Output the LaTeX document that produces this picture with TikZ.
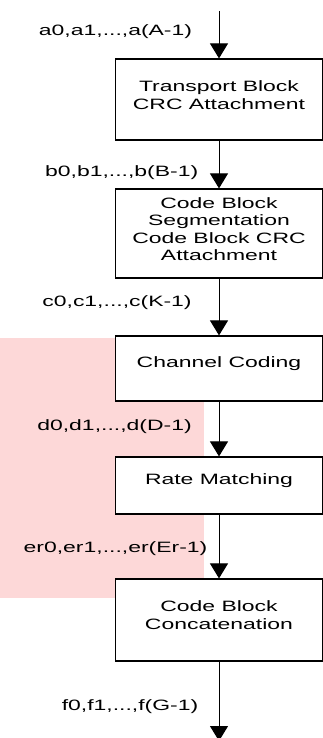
\documentclass[tikz,border=0pt]{standalone}
\usepackage{fontspec}
\setmainfont{Liberation Sans}[FakeStretch=1.53]
\usetikzlibrary{arrows.meta}
\definecolor{wmpink}{RGB}{253,216,216}
\begin{document}
\begin{tikzpicture}[x=1pt,y=-1pt,
  blk/.style={draw=black, line width=1.2pt, fill=white, minimum width=207pt, inner sep=0pt},
  txt/.style={align=center, inner sep=0pt, font=\fontsize{15}{17.3}\selectfont},
  lbl/.style={inner sep=0pt, anchor=base, font=\fontsize{15}{17.3}\selectfont},
  flow/.style={line width=1pt, -{Triangle[width=18pt,length=15pt]}}]
\useasboundingbox (0,0) rectangle (323,738);
% faint pink watermark
\fill[wmpink] (0,338) rectangle (204,598);
% boxes
\node[blk, minimum height=81pt] (b1) at (219,99.5) {};
\node[blk, minimum height=89pt] (b2) at (219,233.5) {};
\node[blk, minimum height=65pt] (b3) at (219,368.5) {};
\node[blk, minimum height=57pt] (b4) at (219,485.5) {};
\node[blk, minimum height=82pt] (b5) at (219,620) {};
% box texts
\node[txt] (t1) at ([yshift=4.5pt]b1.center) {Transport Block\\CRC Attachment};
\node[txt] (t2) at ([yshift=4.5pt]b2.center) {Code Block\\Segmentation\\Code Block CRC\\Attachment};
\node[txt] (t3) at ([yshift=5pt]b3.center) {Channel Coding};
\node[txt] (t4) at ([yshift=5pt]b4.center) {Rate Matching};
\node[txt] (t5) at ([yshift=5pt]b5.center) {Code Block\\Concatenation};
% free ends
\coordinate (top) at (219,11);
\coordinate (bot) at (219,741);
% connectors
\draw[flow] (top) -- (b1.north);
\draw[flow] (b1.south) -- (b2.north);
\draw[flow] (b2.south) -- (b3.north);
\draw[flow] (b3.south) -- (b4.north);
\draw[flow] (b4.south) -- (b5.north);
\draw[flow] (b5.south) -- (bot);
% labels
\node[lbl] (la) at (115.5,36) {a0,a1,...,a(A-1)};
\node[lbl] (lb) at (121.7,176.5) {b0,b1,...,b(B-1)};
\node[lbl] (lc) at (117,306.5) {c0,c1,...,c(K-1)};
\node[lbl] (ld) at (114.5,430) {d0,d1,...,d(D-1)};
\node[lbl] (le) at (115.5,552.5) {er0,er1,...,er(Er-1)};
\node[lbl] (lf) at (130,710) {f0,f1,...,f(G-1)};
\end{tikzpicture}
\end{document}
